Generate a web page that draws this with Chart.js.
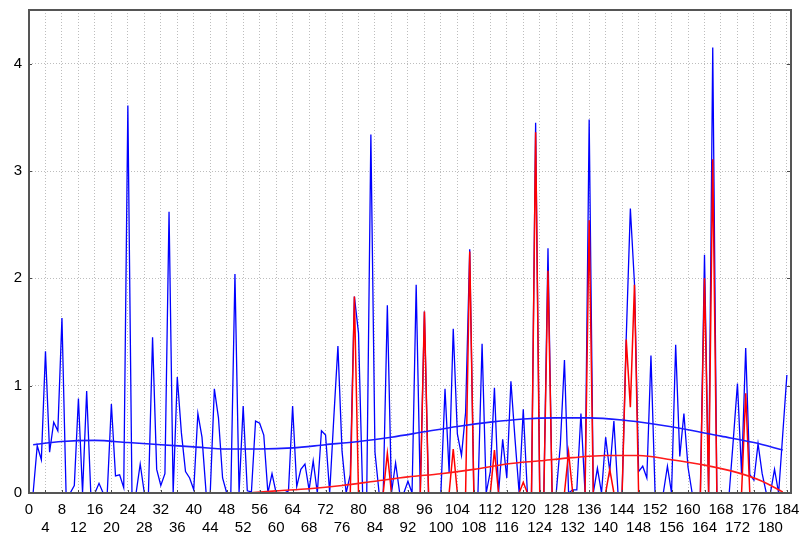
<!DOCTYPE html>
<html>
<head>
<meta charset="utf-8">
<script src="https://cdn.jsdelivr.net/npm/chart.js@4"></script>
<style>
  html, body { margin: 0; padding: 0; background: #fff; }
  #wrap { width: 803px; height: 536px; }
</style>
</head>
<body>
<div id="wrap"><canvas id="chart" width="803" height="536"></canvas></div>
<script>
// values for x = 1 .. 184
const blueVals = [
  0, 0.44, 0.31, 1.32, 0.38, 0.66, 0.58, 1.63, 0, 0,
  0.07, 0.88, 0, 0.95, 0, 0, 0.09, 0, 0, 0.83,
  0.16, 0.17, 0.05, 3.61, 0, 0, 0.27, 0, 0, 1.45,
  0.22, 0.07, 0.18, 2.62, 0, 1.08, 0.56, 0.2, 0.14, 0.03,
  0.74, 0.52, 0, 0, 0.97, 0.7, 0.14, 0, 0, 2.04,
  0, 0.81, 0.02, 0.01, 0.67, 0.65, 0.54, 0, 0.18, 0,
  0, 0, 0.02, 0.81, 0.06, 0.22, 0.27, 0.03, 0.3, 0,
  0.58, 0.54, 0, 0.7, 1.37, 0.39, 0, 0.17, 1.83, 1.49,
  0, 0, 3.34, 0.38, 0, 0, 1.75, 0, 0.28, 0,
  0, 0.11, 0, 1.94, 0, 1.69, 0, 0, 0, 0,
  0.97, 0.19, 1.53, 0.55, 0.35, 0.75, 2.27, 0, 0, 1.39,
  0, 0.2, 0.98, 0, 0.5, 0.14, 1.04, 0.5, 0, 0.78,
  0, 0, 3.45, 0, 0, 2.28, 0, 0, 0.45, 1.24,
  0, 0.03, 0.03, 0.74, 0, 3.48, 0, 0.23, 0, 0.52,
  0.2, 0.67, 0, 0, 1.45, 2.65, 1.95, 0.2, 0.25, 0.14,
  1.28, 0, 0, 0, 0.25, 0, 1.38, 0.34, 0.74, 0.24,
  0, 0, 0, 2.22, 0, 4.15, 0, 0, 0, 0,
  0.5, 1.02, 0.18, 1.35, 0.17, 0.12, 0.46, 0.18, 0, 0,
  0.22, 0, 0.55, 1.1
];

const redVals = [
  0, 0, 0, 0, 0, 0, 0, 0, 0, 0,
  0, 0, 0, 0, 0, 0, 0, 0, 0, 0,
  0, 0, 0, 0, 0, 0, 0, 0, 0, 0,
  0, 0, 0, 0, 0, 0, 0, 0, 0, 0,
  0, 0, 0, 0, 0, 0, 0, 0, 0, 0,
  0, 0, 0, 0, 0, 0, 0, 0, 0, 0,
  0, 0, 0, 0, 0, 0, 0, 0, 0, 0,
  0, 0, 0, 0, 0, 0, 0, 0, 1.83, 0,
  0, 0, 0, 0, 0, 0, 0.37, 0, 0, 0,
  0, 0, 0, 0, 0, 1.69, 0, 0, 0, 0,
  0, 0, 0.41, 0, 0, 0, 2.25, 0, 0, 0,
  0, 0, 0.4, 0, 0, 0, 0, 0, 0, 0.1,
  0, 0, 3.36, 0, 0, 2.07, 0, 0, 0, 0,
  0.38, 0, 0, 0, 0, 2.54, 0, 0, 0, 0,
  0.22, 0, 0, 0, 1.43, 0.8, 1.94, 0, 0, 0,
  0, 0, 0, 0, 0, 0, 0, 0, 0, 0,
  0, 0, 0, 2.0, 0, 3.11, 0, 0, 0, 0,
  0, 0, 0, 0.93, 0, 0, 0, 0, 0, 0,
  0, 0, 0, 0
];

// smooth trend curves, read at a few positions
const blueTrendX = [1, 8, 16, 24, 32, 40, 48, 56, 64, 72, 80, 88, 96, 104, 112, 120, 128, 136, 144, 152, 160, 168, 176, 183];
const blueTrendY = [0.45, 0.48, 0.49, 0.47, 0.45, 0.43, 0.41, 0.41, 0.42, 0.45, 0.48, 0.52, 0.57, 0.62, 0.66, 0.69, 0.70, 0.70, 0.68, 0.64, 0.59, 0.53, 0.47, 0.40];
const redTrendX = [53, 60, 68, 76, 84, 92, 100, 108, 116, 124, 132, 140, 148, 156, 164, 172, 178, 183];
const redTrendY = [0.0, 0.02, 0.04, 0.07, 0.11, 0.15, 0.18, 0.22, 0.27, 0.30, 0.33, 0.35, 0.35, 0.31, 0.26, 0.19, 0.11, 0.01];

const xTicks = { min: 0, max: 185, step: 4 };
const yTicks = { min: 0, max: 4.5, step: 1 };

const toPoints = (vals) => vals.map((v, i) => ({ x: i + 1, y: v }));
const pairPoints = (xs, ys) => xs.map((x, i) => ({ x: x, y: ys[i] }));

// frame around the plot plus short inner ticks
const framePlugin = {
  id: "frame",
  afterDatasetsDraw(chart) {
    const { ctx, chartArea: a, scales } = chart;
    ctx.save();
    ctx.strokeStyle = "#4a4a4a";
    ctx.lineWidth = 1;
    scales.y.ticks.forEach(t => {
      const y = Math.round(scales.y.getPixelForValue(t.value)) + 0.5;
      ctx.beginPath();
      ctx.moveTo(a.right - 4, y);
      ctx.lineTo(a.right, y);
      ctx.moveTo(a.left, y);
      ctx.lineTo(a.left + 3, y);
      ctx.stroke();
    });
    scales.x.ticks.forEach(t => {
      const x = Math.round(scales.x.getPixelForValue(t.value)) + 0.5;
      ctx.beginPath();
      ctx.moveTo(x, a.bottom);
      ctx.lineTo(x, a.bottom - 3);
      ctx.stroke();
    });
    ctx.lineWidth = 2;
    ctx.strokeStyle = "#555";
    ctx.strokeRect(a.left, a.top, a.right - a.left, a.bottom - a.top);
    ctx.restore();
  }
};

const ctx = document.getElementById("chart").getContext("2d");
new Chart(ctx, {
  type: "line",
  data: {
    datasets: [
      {
        label: "trend blue",
        data: pairPoints(blueTrendX, blueTrendY),
        borderColor: "#1a1aff",
        borderWidth: 1.6,
        pointRadius: 0,
        cubicInterpolationMode: "monotone",
        fill: false
      },
      {
        label: "trend red",
        data: pairPoints(redTrendX, redTrendY),
        borderColor: "#ff1a1a",
        borderWidth: 1.6,
        pointRadius: 0,
        cubicInterpolationMode: "monotone",
        fill: false
      },
      {
        label: "red",
        data: toPoints(redVals),
        borderColor: "#ff0000",
        borderWidth: 1.5,
        pointRadius: 0,
        tension: 0,
        fill: false
      },
      {
        label: "blue",
        data: toPoints(blueVals),
        borderColor: "#0000ff",
        borderWidth: 1.3,
        pointRadius: 0,
        tension: 0,
        fill: false
      }
    ]
  },
  options: {
    responsive: false,
    animation: false,
    events: [],
    layout: { padding: { top: 10, right: 12, left: 0, bottom: 0 } },
    plugins: { legend: { display: false }, tooltip: { enabled: false } },
    scales: {
      x: {
        type: "linear",
        min: xTicks.min,
        max: xTicks.max,
        afterFit: (scale) => {
          scale.height = 43;
          scale.paddingLeft = 0;
          scale.paddingRight = 0;
        },
        grid: { color: "#bdbdbd", drawTicks: false, lineWidth: 1 },
        border: { display: false, dash: [1, 2] },
        ticks: {
          stepSize: xTicks.step,
          includeBounds: false,
          autoSkip: false,
          maxRotation: 0,
          padding: 8,
          color: "#000",
          font: { family: "'Liberation Sans', Arial, sans-serif", size: 15, lineHeight: 1.2 },
          callback: (v) => (v % 8 === 0 ? [String(v), ""] : ["", String(v)])
        }
      },
      y: {
        min: yTicks.min,
        max: yTicks.max,
        afterFit: (scale) => {
          scale.width = 29;
          scale.paddingTop = 0;
          scale.paddingBottom = 0;
        },
        grid: { color: "#bdbdbd", drawTicks: false, lineWidth: 1 },
        border: { display: false, dash: [1, 2] },
        ticks: {
          stepSize: yTicks.step,
          includeBounds: false,
          padding: 7,
          color: "#000",
          font: { family: "'Liberation Sans', Arial, sans-serif", size: 15 }
        }
      }
    }
  },
  plugins: [framePlugin]
});
</script>
</body>
</html>
